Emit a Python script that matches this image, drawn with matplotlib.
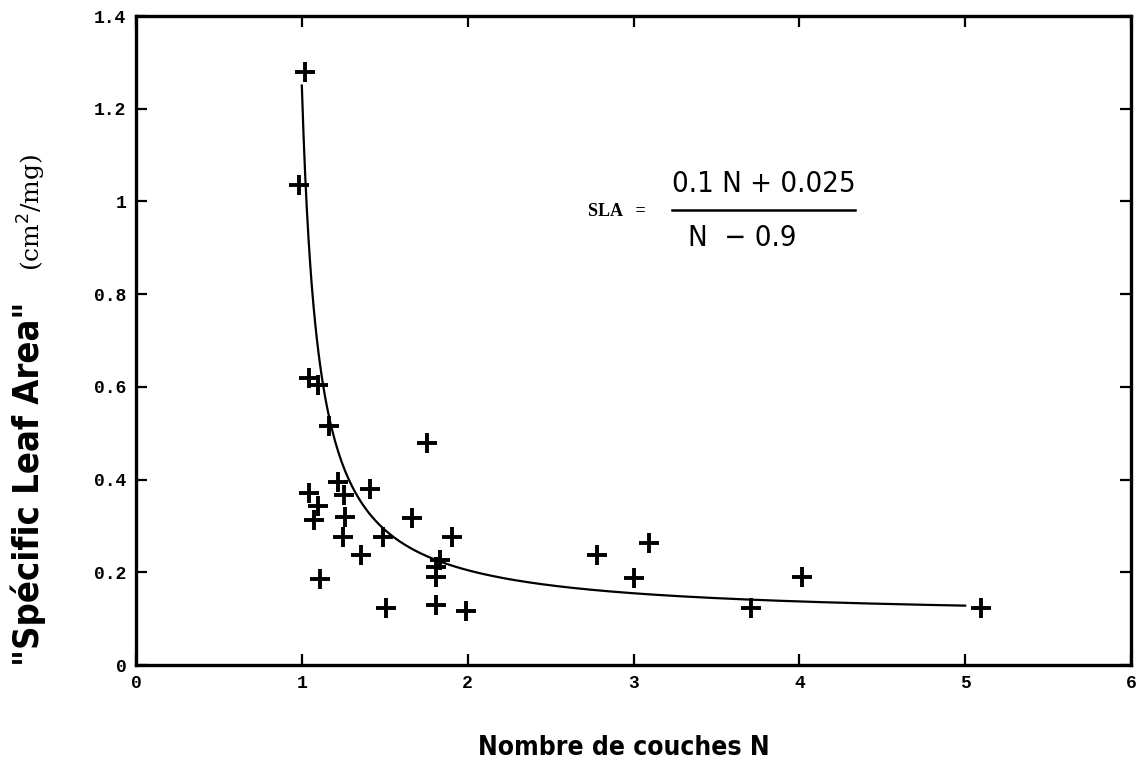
import numpy as np
import matplotlib
matplotlib.use('Agg')
from matplotlib import pyplot as plt
from matplotlib.lines import Line2D

# points: number of layers N, SLA (cm2/mg)
n_layers = [1.02, 0.98, 1.045, 1.10, 1.166, 1.757, 1.22, 1.41, 1.045, 1.255,
            1.10, 1.26, 1.663, 1.074, 1.25, 1.49, 1.906, 1.355, 1.834, 1.808,
            1.808, 1.11, 1.508, 1.808, 1.99, 2.78, 3.094, 3.0, 3.707, 4.015, 5.095]
sla = [1.279, 1.035, 0.619, 0.605, 0.515, 0.479, 0.394, 0.379, 0.371, 0.367,
       0.343, 0.320, 0.318, 0.313, 0.276, 0.276, 0.277, 0.238, 0.227, 0.211,
       0.189, 0.186, 0.124, 0.130, 0.117, 0.238, 0.264, 0.187, 0.122, 0.189, 0.124]

# fitted curve SLA = (0.1N + 0.025)/(N - 0.9)
fit_a, fit_b, fit_c = 0.1, 0.025, 0.9
fit_range = (1.0, 5.0)

xticks = [0, 1, 2, 3, 4, 5, 6]
yticks = [0, 0.2, 0.4, 0.6, 0.8, 1, 1.2, 1.4]
yticklabels = ['0', '0.2', '0.4', '0.6', '0.8', '1', '1.2', '1.4']

W, H = 1146, 778
fig = plt.figure(figsize=(W/100, H/100), dpi=100)
def px(x, y):
    return x / W, 1 - y / H

x0, y0 = px(136, 665)
x1, y1 = px(1131, 16)
ax = fig.add_axes([x0, y0, x1 - x0, y1 - y0])

nn = np.linspace(fit_range[0], fit_range[1], 400)
ax.plot(nn, (fit_a*nn + fit_b)/(nn - fit_c), color='black', lw=1.6)
ax.plot(n_layers, sla, linestyle='none', marker='+', color='black',
        markersize=14, markeredgewidth=2.8)

ax.set_xlim(0, 6)
ax.set_ylim(0, 1.4)
ax.set_xticks(xticks)
ax.set_yticks(yticks)
ax.set_yticklabels(yticklabels)
for s in ax.spines.values():
    s.set_linewidth(2.4)
ax.tick_params(direction='in', length=8, width=1.6, top=True, right=True,
               labelsize=13, pad=7)
for lab in ax.get_xticklabels() + ax.get_yticklabels():
    lab.set_family('Liberation Mono')
    lab.set_weight('bold')

cond = dict(family='DejaVu Sans', fontstretch='condensed', weight='bold')
fig.text(*px(624, 748), 'Nombre de couches N', ha='center', va='center',
         fontsize=19, **cond)
fig.text(*px(28, 484), '"Spécific Leaf Area"', ha='center', va='center',
         rotation=90, fontsize=26, **cond)
fig.text(*px(32, 212), '(cm$^2$/mg)', ha='center', va='center', rotation=90,
         fontsize=18, family='DejaVu Serif')

# equation
fig.text(*px(617, 211), 'SLA   =', ha='center', va='center', fontsize=13,
         family='Liberation Serif', weight='bold')
fig.text(*px(764, 184), '0.1 N + 0.025', ha='center', va='center', fontsize=21,
         family='DejaVu Sans', fontstretch='condensed')
fig.text(*px(742, 238), 'N  − 0.9', ha='center', va='center', fontsize=21,
         family='DejaVu Sans', fontstretch='condensed')
fa, fb = px(672, 210), px(855, 210)
fig.add_artist(Line2D([fa[0], fb[0]], [fa[1], fb[1]], color='black', lw=1.8,
                      transform=fig.transFigure))

fig.savefig('out.png', dpi=100)
